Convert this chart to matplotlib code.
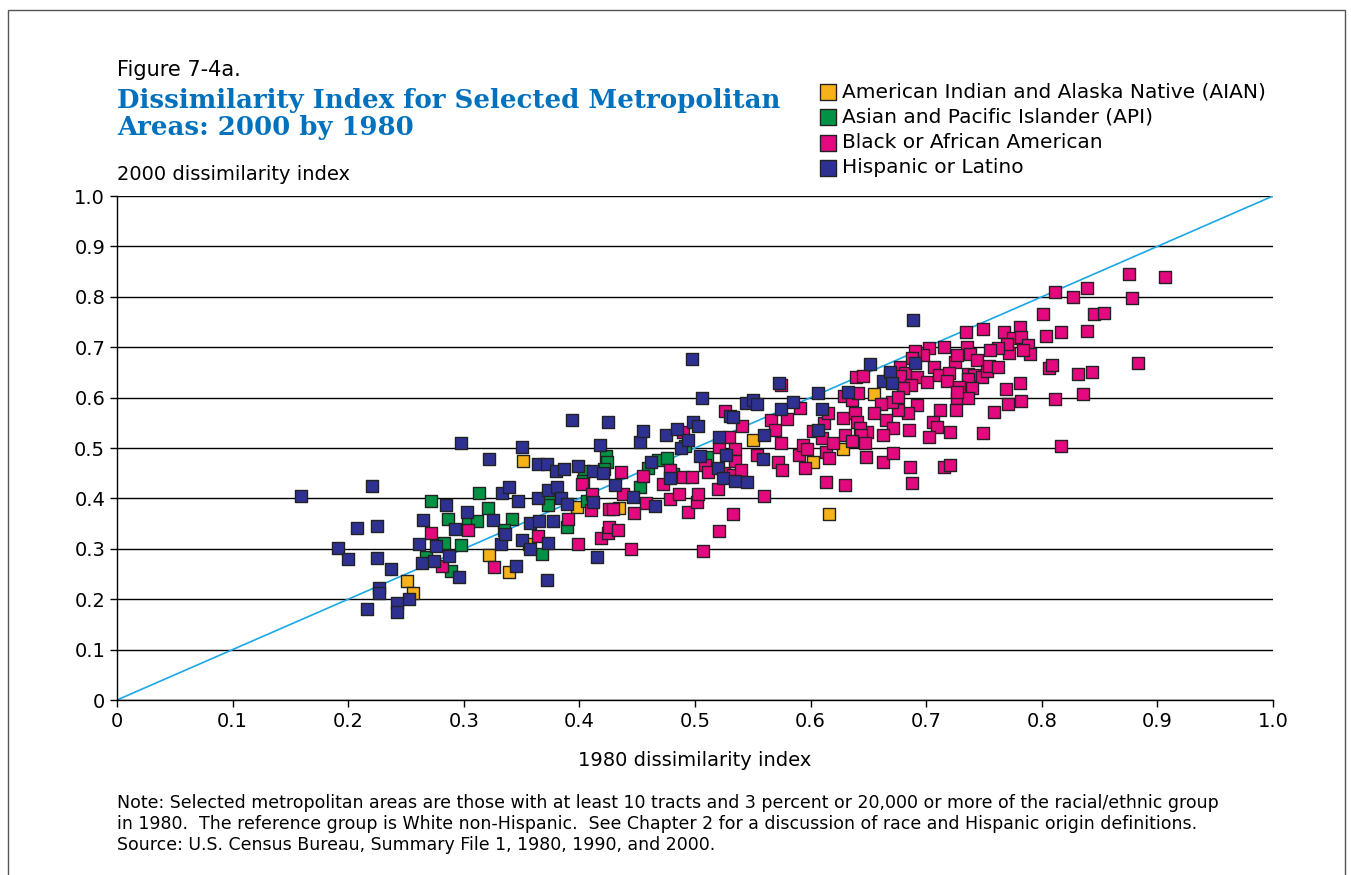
import matplotlib
matplotlib.use("Agg")
import matplotlib.pyplot as plt
from matplotlib.patches import Rectangle

# 1980 (x) and 2000 (y) dissimilarity index
aian_1980 = [0.251, 0.256, 0.322, 0.339, 0.351, 0.356, 0.398, 0.434, 0.550, 0.602, 0.628, 0.616, 0.655]
aian_2000 = [0.236, 0.212, 0.288, 0.254, 0.474, 0.310, 0.383, 0.381, 0.516, 0.472, 0.498, 0.369, 0.607]

api_1980 = [0.272, 0.313, 0.321, 0.286, 0.304, 0.311, 0.342, 0.335, 0.283, 0.298, 0.267, 0.289,
            0.368, 0.389, 0.374, 0.373, 0.423, 0.424, 0.421, 0.404, 0.403, 0.407, 0.452, 0.459,
            0.468, 0.476, 0.481, 0.491, 0.510]
api_2000 = [0.395, 0.411, 0.381, 0.359, 0.353, 0.355, 0.359, 0.337, 0.312, 0.308, 0.284, 0.256,
            0.290, 0.343, 0.405, 0.387, 0.484, 0.472, 0.458, 0.454, 0.435, 0.395, 0.423, 0.460,
            0.476, 0.480, 0.448, 0.504, 0.482]

black_1980 = [0.272, 0.304, 0.281, 0.326, 0.364, 0.390, 0.399, 0.402, 0.411, 0.410, 0.419, 0.425,
              0.426, 0.429, 0.426, 0.433, 0.436, 0.438, 0.445, 0.447, 0.455, 0.458, 0.472, 0.478,
              0.478, 0.486, 0.490, 0.497, 0.490, 0.494, 0.502, 0.503, 0.507, 0.509, 0.511, 0.520,
              0.521, 0.521, 0.525, 0.526, 0.529, 0.533, 0.533, 0.535, 0.535, 0.540, 0.541, 0.554,
              0.560, 0.566, 0.569, 0.572, 0.574, 0.574, 0.575, 0.580, 0.590, 0.591, 0.593, 0.595,
              0.597, 0.602, 0.610, 0.612, 0.613, 0.613, 0.615, 0.616, 0.619, 0.628, 0.630, 0.630,
              0.629, 0.636, 0.639, 0.641,
              0.875, 0.907, 0.811, 0.827, 0.839, 0.878, 0.801, 0.845, 0.854, 0.804, 0.817, 0.839,
              0.734, 0.749, 0.767, 0.781, 0.775, 0.782, 0.788, 0.790, 0.784, 0.772, 0.770, 0.762,
              0.755, 0.735, 0.738, 0.744, 0.725, 0.727, 0.715, 0.702, 0.697, 0.690, 0.688, 0.707,
              0.677, 0.682, 0.692, 0.701, 0.711, 0.720, 0.718, 0.736, 0.741, 0.748, 0.753, 0.754,
              0.762, 0.736, 0.728, 0.740, 0.727, 0.736, 0.727, 0.692, 0.712, 0.726, 0.684, 0.676,
              0.670, 0.661, 0.655, 0.665, 0.671, 0.685, 0.706, 0.709, 0.702, 0.721, 0.749, 0.759,
              0.771, 0.782, 0.781, 0.769, 0.806, 0.809, 0.831, 0.843, 0.836, 0.811, 0.883, 0.817,
              0.645, 0.669, 0.677, 0.687, 0.680, 0.676, 0.638, 0.640, 0.649, 0.643, 0.644, 0.636,
              0.647, 0.663, 0.648, 0.663, 0.671, 0.686, 0.688, 0.715, 0.721]
black_2000 = [0.331, 0.337, 0.266, 0.264, 0.325, 0.359, 0.310, 0.429, 0.409, 0.377, 0.321, 0.331,
              0.379, 0.379, 0.343, 0.337, 0.452, 0.409, 0.300, 0.371, 0.444, 0.391, 0.429, 0.399,
              0.456, 0.409, 0.442, 0.442, 0.532, 0.373, 0.393, 0.409, 0.296, 0.466, 0.452, 0.419,
              0.335, 0.502, 0.450, 0.573, 0.522, 0.446, 0.369, 0.498, 0.474, 0.456, 0.544, 0.486,
              0.405, 0.556, 0.536, 0.472, 0.510, 0.625, 0.456, 0.558, 0.486, 0.579, 0.506, 0.460,
              0.498, 0.534, 0.520, 0.550, 0.492, 0.433, 0.569, 0.480, 0.510, 0.560, 0.526, 0.427,
              0.603, 0.595, 0.641, 0.609,
              0.845, 0.839, 0.810, 0.800, 0.817, 0.798, 0.766, 0.766, 0.768, 0.722, 0.730, 0.732,
              0.730, 0.736, 0.730, 0.740, 0.718, 0.720, 0.704, 0.687, 0.694, 0.688, 0.706, 0.698,
              0.694, 0.700, 0.687, 0.675, 0.671, 0.685, 0.700, 0.698, 0.685, 0.692, 0.679, 0.661,
              0.661, 0.649, 0.641, 0.631, 0.645, 0.649, 0.633, 0.647, 0.645, 0.641, 0.653, 0.663,
              0.661, 0.637, 0.621, 0.619, 0.599, 0.599, 0.611, 0.585, 0.575, 0.575, 0.569, 0.575,
              0.591, 0.587, 0.569, 0.556, 0.540, 0.536, 0.552, 0.542, 0.522, 0.532, 0.530, 0.571,
              0.587, 0.593, 0.629, 0.617, 0.659, 0.665, 0.647, 0.651, 0.607, 0.597, 0.669, 0.504,
              0.643, 0.643, 0.643, 0.625, 0.619, 0.601, 0.569, 0.552, 0.532, 0.540, 0.526, 0.514,
              0.510, 0.526, 0.482, 0.472, 0.490, 0.462, 0.431, 0.462, 0.466]

hisp_1980 = [0.159, 0.221, 0.208, 0.225, 0.191, 0.200, 0.225, 0.237, 0.227, 0.227, 0.216, 0.242,
             0.242, 0.253, 0.261, 0.265, 0.264, 0.274, 0.276, 0.287, 0.285, 0.292, 0.296, 0.298,
             0.303, 0.322, 0.325, 0.333, 0.339, 0.332, 0.336, 0.345, 0.347, 0.350, 0.350, 0.357,
             0.357, 0.364, 0.372, 0.365, 0.364, 0.373, 0.373, 0.372, 0.377, 0.380, 0.381, 0.384,
             0.387, 0.394, 0.399, 0.389, 0.412, 0.412, 0.420, 0.415, 0.418, 0.425, 0.431, 0.446,
             0.452, 0.455, 0.462, 0.465, 0.475, 0.478, 0.484, 0.488, 0.494, 0.497, 0.498, 0.503,
             0.504, 0.506, 0.521, 0.520, 0.524, 0.527, 0.530, 0.533, 0.535, 0.544, 0.545, 0.550,
             0.554, 0.559, 0.560, 0.573, 0.574, 0.585, 0.606, 0.610, 0.606, 0.632, 0.651, 0.663,
             0.669, 0.670, 0.690, 0.689]
hisp_2000 = [0.405, 0.425, 0.341, 0.345, 0.302, 0.280, 0.282, 0.260, 0.222, 0.212, 0.181, 0.192,
             0.175, 0.200, 0.310, 0.357, 0.272, 0.276, 0.306, 0.286, 0.387, 0.339, 0.244, 0.510,
             0.373, 0.478, 0.357, 0.411, 0.423, 0.310, 0.329, 0.266, 0.395, 0.502, 0.317, 0.300,
             0.351, 0.468, 0.468, 0.355, 0.401, 0.417, 0.312, 0.238, 0.355, 0.454, 0.423, 0.401,
             0.458, 0.556, 0.464, 0.389, 0.454, 0.393, 0.450, 0.284, 0.506, 0.552, 0.427, 0.403,
             0.512, 0.534, 0.472, 0.385, 0.526, 0.440, 0.538, 0.500, 0.516, 0.677, 0.552, 0.544,
             0.484, 0.599, 0.522, 0.460, 0.440, 0.486, 0.563, 0.561, 0.435, 0.589, 0.433, 0.595,
             0.587, 0.478, 0.526, 0.629, 0.577, 0.591, 0.609, 0.577, 0.536, 0.611, 0.667, 0.633,
             0.651, 0.629, 0.669, 0.754]

groups = ["American Indian and Alaska Native (AIAN)",
          "Asian and Pacific Islander (API)",
          "Black or African American",
          "Hispanic or Latino"]
colors = ["#F7B219", "#009245", "#E5097F", "#2E3192"]

fig = plt.figure(figsize=(13.51, 8.75), dpi=100)
ax = fig.add_axes([117 / 1351, 1 - 700 / 875, 1156 / 1351, 504 / 875])

# outer frame
fig.patches.append(Rectangle((8 / 1351, -0.01), 1337 / 1351, 1 - 10 / 875 + 0.01,
                             transform=fig.transFigure, fill=False, edgecolor="#555555", lw=1))

ax.plot([0, 1], [0, 1], color="#1BA8E6", lw=1.2, zorder=2)

data = [(aian_1980, aian_2000), (api_1980, api_2000), (black_1980, black_2000), (hisp_1980, hisp_2000)]
handles = []
for (xs, ys), lab, col in zip(data, groups, colors):
    h = ax.scatter(xs, ys, marker="s", s=80, color=col, edgecolors="#222222",
                   linewidths=1.0, zorder=3, label=lab)
    handles.append(h)

ax.set_xlim(0, 1)
ax.set_ylim(0, 1)
ticks = [0, 0.1, 0.2, 0.3, 0.4, 0.5, 0.6, 0.7, 0.8, 0.9, 1.0]
tick_labels = ["0", "0.1", "0.2", "0.3", "0.4", "0.5", "0.6", "0.7", "0.8", "0.9", "1.0"]
ax.set_xticks(ticks)
ax.set_xticklabels(tick_labels)
ax.set_yticks(ticks)
ax.set_yticklabels(tick_labels)
ax.yaxis.grid(True, color="black", lw=1.0)
ax.set_axisbelow(True)
ax.tick_params(labelsize=14, length=5, width=1, colors="black")
for s in ["top", "right"]:
    ax.spines[s].set_visible(False)
for s in ["left", "bottom"]:
    ax.spines[s].set_linewidth(1.0)

fig.text(117 / 1351, 1 - 70 / 875, "Figure 7-4a.", fontsize=15, va="center", ha="left")
fig.text(117 / 1351, 1 - 114 / 875, "Dissimilarity Index for Selected Metropolitan\nAreas: 2000 by 1980",
         fontsize=18.7, fontweight="bold", family="DejaVu Serif", color="#0071BC",
         va="center", ha="left", linespacing=1.1)
fig.text(117 / 1351, 1 - 175 / 875, "2000 dissimilarity index", fontsize=14, va="center", ha="left")
fig.text(695 / 1351, 1 - 760 / 875, "1980 dissimilarity index", fontsize=14, va="center", ha="center")

note = ("Note: Selected metropolitan areas are those with at least 10 tracts and 3 percent or 20,000 or more of the racial/ethnic group\n"
        "in 1980.  The reference group is White non-Hispanic.  See Chapter 2 for a discussion of race and Hispanic origin definitions.\n"
        "Source: U.S. Census Bureau, Summary File 1, 1980, 1990, and 2000.")
fig.text(117 / 1351, 1 - 824 / 875, note, fontsize=12.5, va="center", ha="left", linespacing=1.2)

fig.legend(handles=handles, labels=groups, loc="upper left",
           bbox_to_anchor=(810 / 1351, 1 - 74 / 875), frameon=False, fontsize=14.5,
           handletextpad=0.2, labelspacing=0.32, borderaxespad=0, markerscale=1.35,
           handlelength=1.0)

fig.savefig("out.png", dpi=100)
